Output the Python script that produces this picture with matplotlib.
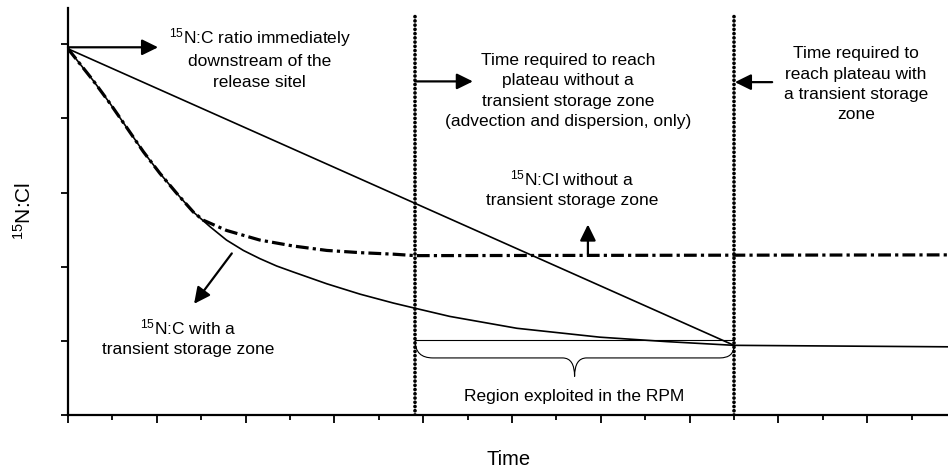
import matplotlib
matplotlib.use('Agg')
import matplotlib.pyplot as plt
from matplotlib.path import Path
from matplotlib.patches import PathPatch

# 15N:Cl curves (time in tick units, ratio in y-tick units)
t_storage = [0.0, 0.57, 0.95, 1.32, 1.70, 2.07, 2.45, 2.82, 3.20, 3.57, 3.95, 4.32,
             4.70, 5.07, 5.83, 6.58, 7.33, 7.82, 8.60, 10.11, 11.98, 13.49, 15.0, 19.82]
r_storage = [4.94, 4.51, 4.20, 3.88, 3.55, 3.26, 2.99, 2.74, 2.54, 2.36, 2.22, 2.11,
             2.01, 1.93, 1.77, 1.63, 1.51, 1.44, 1.33, 1.17, 1.05, 0.99, 0.94, 0.92]

t_no_storage = [0.0, 0.57, 0.95, 1.32, 1.70, 2.07, 2.45, 2.82, 3.04, 3.57, 4.32,
                5.07, 5.83, 6.58, 7.32, 7.82, 19.82]
r_no_storage = [4.94, 4.51, 4.20, 3.88, 3.55, 3.26, 2.99, 2.74, 2.63, 2.49, 2.36,
                2.28, 2.22, 2.19, 2.17, 2.15, 2.16]

t_line = [0.0, 15.0]
r_line = [4.94, 0.94]

# plateau times (vertical dotted lines)
t_plateau = [7.82, 15.0]
plateau_top = 5.42

x_major = [0, 2, 4, 6, 8, 10, 12, 14, 16, 18]
x_minor = [1, 3, 5, 7, 9, 11, 13, 15, 17, 19]
y_ticks = [0, 1, 2, 3, 4, 5]

plt.rcParams['font.family'] = ['Liberation Sans', 'DejaVu Sans']
plt.rcParams['mathtext.fontset'] = 'custom'
plt.rcParams['mathtext.rm'] = 'Liberation Sans'
plt.rcParams['mathtext.it'] = 'Liberation Sans:italic'
plt.rcParams['mathtext.bf'] = 'Liberation Sans:bold'


def brace(ax, x0, x1, y_top, y_end, y_flat, y_tip):
    # curly brace under the region between the two plateau times
    xm = (x0 + x1) / 2
    verts = [(x0, y_top), (x0, y_flat), (x0 + 0.4, y_flat),
             (xm - 0.27, y_flat), (xm, y_flat), (xm, y_tip),
             (xm, y_flat), (xm + 0.27, y_flat),
             (x1 - 0.32, y_flat), (x1, y_flat), (x1, y_end)]
    codes = [Path.MOVETO, Path.CURVE3, Path.CURVE3,
             Path.LINETO, Path.CURVE3, Path.CURVE3,
             Path.CURVE3, Path.CURVE3,
             Path.LINETO, Path.CURVE3, Path.CURVE3]
    ax.add_patch(PathPatch(Path(verts, codes), fill=False, lw=0.8, color='black'))
    ax.plot([x0, x1], [y_top + 0.01, y_top + 0.01], color='black', lw=0.8)


def arrow(ax, tail, tip):
    ax.annotate('', xy=tip, xytext=tail,
                arrowprops=dict(arrowstyle='-|>,head_length=0.65,head_width=0.32',
                                lw=1.6, color='black', fc='black',
                                mutation_scale=15, shrinkA=0, shrinkB=0))


fig = plt.figure(figsize=(9.48, 4.68), dpi=100)
ax = fig.add_axes([0.0717, 0.1132, 0.9283, 0.8697])

ax.plot(t_line, r_line, color='black', lw=1.2)
ax.plot(t_storage, r_storage, color='black', lw=1.2)
ax.plot(t_no_storage, r_no_storage, color='black', lw=2.3,
        linestyle=(0, (4, 1.3, 1, 1.3)), zorder=3)
for t in t_plateau:
    ax.plot([t, t], [0, plateau_top], color='black', lw=2.7,
            linestyle=(0, (0.01, 1.12)), dash_capstyle='round', zorder=4)

brace(ax, t_plateau[0], t_plateau[1], 1.0, 0.94, 0.77, 0.52)

ax.set_xlim(0, 19.82)
ax.set_ylim(0, 5.49)
ax.set_xticks(x_major)
ax.set_xticks(x_minor, minor=True)
ax.set_yticks(y_ticks)
ax.tick_params(axis='x', which='major', direction='out', length=5.8, width=1.3)
ax.tick_params(axis='x', which='minor', direction='out', length=3.6, width=1.3)
ax.tick_params(axis='y', direction='out', length=5, width=1.3)
ax.tick_params(labelbottom=False, labelleft=False)
for s in ['top', 'right']:
    ax.spines[s].set_visible(False)
for s in ['left', 'bottom']:
    ax.spines[s].set_linewidth(1.6)

fs = 12.5
ls = 1.45
ax.text(4.32, 4.82, '$^{15}$N:C ratio immediately\ndownstream of the\nrelease sitel',
        ha='center', va='center', fontsize=fs, linespacing=ls)
ax.text(2.70, 1.05, '$^{15}$N:C with a\ntransient storage zone',
        ha='center', va='center', fontsize=fs, linespacing=ls)
ax.text(11.26, 4.37, 'Time required to reach\nplateau without a\ntransient storage zone\n'
        '(advection and dispersion, only)', ha='center', va='center', fontsize=fs,
        linespacing=ls)
ax.text(11.35, 3.06, '$^{15}$N:Cl without a\ntransient storage zone',
        ha='center', va='center', fontsize=fs, linespacing=ls)
ax.text(17.75, 4.46, 'Time required to\nreach plateau with\na transient storage\nzone',
        ha='center', va='center', fontsize=fs, linespacing=ls)
ax.text(11.4, 0.19, 'Region exploited in the RPM', ha='center', va='baseline', fontsize=fs)

arrow(ax, (0.0, 4.96), (2.03, 4.96))
arrow(ax, (3.69, 2.18), (2.84, 1.50))
arrow(ax, (11.71, 2.17), (11.71, 2.57))
arrow(ax, (7.82, 4.5), (9.12, 4.5))
arrow(ax, (15.86, 4.49), (15.02, 4.49))

fig.text(509 / 948, 1 - 465 / 468, 'Time', ha='center', va='baseline', fontsize=14.5)
fig.text(24 / 948, 1 - 210.5 / 468, '$^{15}$N:Cl', rotation=90,
         ha='center', va='center', fontsize=15)

fig.savefig('out.png', dpi=100)
